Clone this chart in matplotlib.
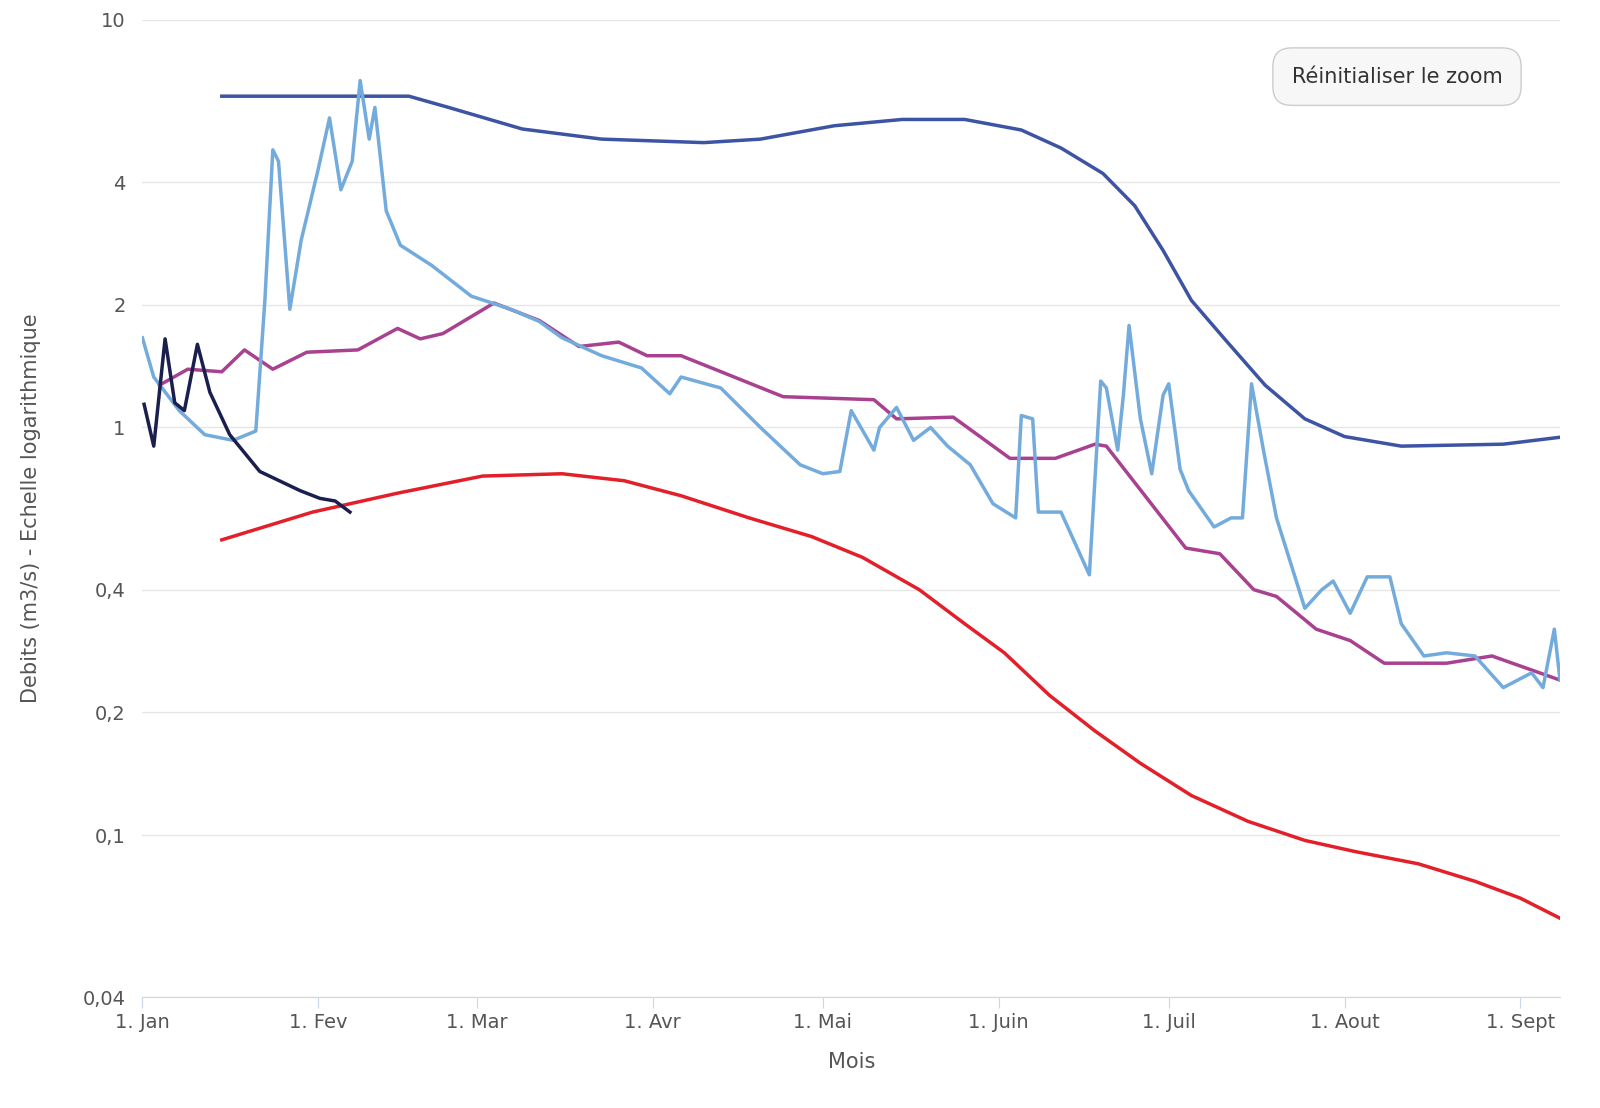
import numpy as np
from matplotlib import pyplot as plt
from matplotlib.ticker import FixedLocator, NullLocator
import matplotlib
matplotlib.use("Agg")

# jours depuis le 1er janvier
max_d = [14, 30, 47, 54, 67, 81, 99, 109, 122, 134, 145, 155, 162, 169.4, 175, 180, 185, 191, 198,
         205, 212, 222, 240, 251]
max_v = [6.5, 6.5, 6.5, 6.1, 5.4, 5.1, 5.0, 5.1, 5.5, 5.7, 5.7, 5.37, 4.85, 4.2, 3.5, 2.72, 2.05,
         1.64, 1.27, 1.05, 0.95, 0.9, 0.91, 0.95]

min_d = [14, 30, 45, 60, 74, 85, 95, 107, 118, 127, 137, 145, 152, 160, 168, 176, 185, 195, 205,
         214, 225, 235, 243, 250]
min_v = [0.53, 0.62, 0.69, 0.76, 0.77, 0.74, 0.68, 0.60, 0.54, 0.48, 0.40, 0.33, 0.28, 0.22, 0.18,
         0.15, 0.125, 0.108, 0.097, 0.091, 0.085, 0.077, 0.07, 0.0625]

moy_d = [3, 8, 14, 18, 23, 29, 38, 45, 49, 53, 62, 70, 77, 84, 89, 95, 113, 129, 133, 143,
         153, 161, 168, 170, 184, 190, 196, 200, 207, 213, 219, 230, 238, 250]
moy_v = [1.27, 1.39, 1.37, 1.55, 1.39, 1.53, 1.55, 1.75, 1.65, 1.7, 2.02, 1.83, 1.58, 1.62, 1.5, 1.5,
         1.19, 1.17, 1.05, 1.06, 0.84, 0.84, 0.91, 0.9, 0.506, 0.49, 0.40, 0.385, 0.32, 0.30, 0.264,
         0.264, 0.275, 0.24]

an_d = [0, 2, 6.5, 11, 16, 20, 21.6, 23, 24, 26, 28, 31, 33, 35, 37, 38.4, 40, 41, 43, 45.5, 51, 58,
        65, 70, 74, 81, 88, 93, 95, 102, 109, 116, 120, 123, 125, 129, 130, 133, 136, 139, 142, 146,
        150, 154, 155, 157, 158, 162, 167, 169, 170, 172, 173, 174, 176, 178, 180, 181, 183, 184.5,
        189, 192, 194, 195.6, 197.7, 200, 205, 208, 210, 213, 216, 220, 222, 226, 230, 235, 240, 245,
        247, 249, 250]
an_v = [1.66, 1.33, 1.1, 0.96, 0.93, 0.98, 2.05, 4.8, 4.5, 1.95, 2.88, 4.3, 5.75, 3.83, 4.5, 7.1, 5.1,
        6.1, 3.4, 2.8, 2.5, 2.1, 1.95, 1.82, 1.66, 1.5, 1.4, 1.21, 1.33, 1.25, 1.0, 0.81, 0.77, 0.78,
        1.1, 0.88, 1.0, 1.12, 0.93, 1.0, 0.9, 0.81, 0.65, 0.6, 1.07, 1.05, 0.62, 0.62, 0.435, 1.3,
        1.25, 0.88, 1.2, 1.78, 1.05, 0.77, 1.2, 1.28, 0.79, 0.7, 0.57, 0.6, 0.6, 1.28, 0.88, 0.6, 0.36,
        0.4, 0.42, 0.35, 0.43, 0.43, 0.33, 0.275, 0.28, 0.275, 0.23, 0.25, 0.23, 0.32, 0.24]

cour_d = [0.3, 2, 4, 5.7, 7.4, 9.7, 11.9, 15.4, 20.7, 27.8, 31.3, 34, 36.6]
cour_v = [1.14, 0.9, 1.65, 1.15, 1.1, 1.6, 1.22, 0.96, 0.78, 0.7, 0.67, 0.66, 0.62]

mois_pos = [0, 31, 59, 90, 120, 151, 181, 212, 243]
mois_lab = ["1. Jan", "1. Fev", "1. Mar", "1. Avr", "1. Mai", "1. Juin", "1. Juil", "1. Aout", "1. Sept"]
y_ticks = [0.04, 0.1, 0.2, 0.4, 1, 2, 4, 10]
y_lab = ["0,04", "0,1", "0,2", "0,4", "1", "2", "4", "10"]

fig = plt.figure(figsize=(16, 11.08), dpi=100)
ax = fig.add_axes([0.089, 0.100, 0.886, 0.882])
ax.set_yscale("log")
ax.set_ylim(0.04, 10)
ax.set_xlim(0, 250)

kw = dict(lw=2.5, solid_joinstyle="round")
ax.plot(max_d, max_v, color="#3d53a3", **kw)
ax.plot(min_d, min_v, color="#e3202a", **kw)
ax.plot(moy_d, moy_v, color="#a8418f", **kw)
ax.plot(an_d, an_v, color="#72abdc", **kw)
ax.plot(cour_d, cour_v, color="#1b1f4d", **kw)

ax.yaxis.set_major_locator(FixedLocator(y_ticks))
ax.yaxis.set_minor_locator(NullLocator())
ax.set_yticklabels(y_lab)
ax.set_xticks(mois_pos)
ax.set_xticklabels(mois_lab)
ax.grid(axis="y", color="#e6e6e6", lw=1)
for s in ["top", "right", "left"]:
    ax.spines[s].set_visible(False)
ax.spines["bottom"].set_color("#ccd6eb")
ax.tick_params(axis="y", length=0, labelsize=14, colors="#555555", pad=12)
ax.tick_params(axis="x", length=8, color="#ccd6eb", labelsize=14, colors="#555555")
ax.set_xlabel("Mois", fontsize=15, color="#555555", labelpad=14)
ax.set_ylabel("Debits (m3/s) - Echelle logarithmique", fontsize=15, color="#555555", labelpad=30)

ax.text(0.885, 0.942, "Réinitialiser le zoom", transform=ax.transAxes, ha="center", va="center",
        fontsize=15, color="#333333",
        bbox=dict(boxstyle="round,pad=0.9", fc="#f7f7f7", ec="#cccccc"))

plt.savefig("out.png")
